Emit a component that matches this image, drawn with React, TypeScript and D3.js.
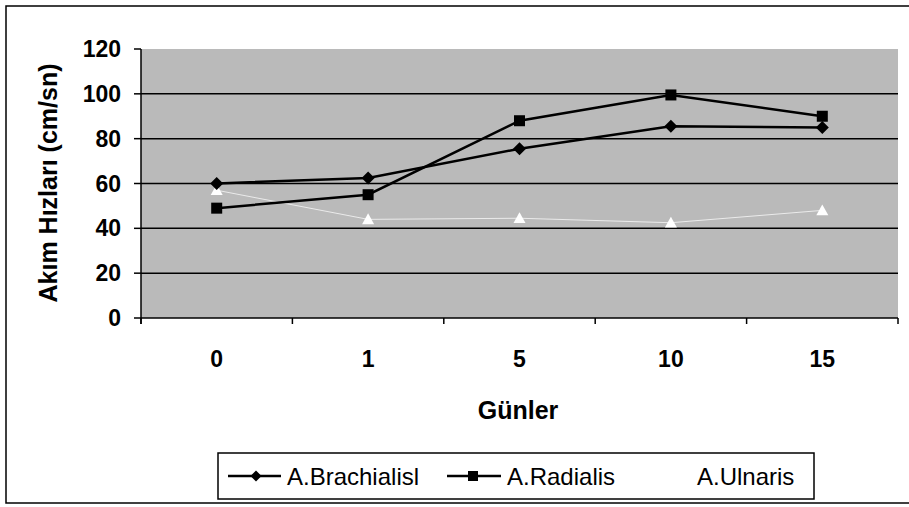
import React from "react";
import * as d3 from "d3";

const categories = ["0", "1", "5", "10", "15"];
const brachialis = [60, 62.5, 75.5, 85.5, 85];
const radialis = [49, 55, 88, 99.5, 90];
const ulnaris = [57, 44, 44.5, 42.5, 48];
const yTicks = [0, 20, 40, 60, 80, 100, 120];
const seriesNames = ["A.Brachialisl", "A.Radialis", "A.Ulnaris"];

const W = 909;
const H = 507;
const plot = { left: 141, right: 898, top: 49, bottom: 318 };
const FONT = "'Liberation Sans', Arial, sans-serif";

export default function App() {
  const x = d3.scaleBand<string>().domain(categories).range([plot.left, plot.right]);
  const y = d3.scaleLinear().domain([0, 120]).range([plot.bottom, plot.top]);
  const cx = (c: string) => (x(c) as number) + x.bandwidth() / 2;
  const line = d3
    .line<number>()
    .x((_, i) => cx(categories[i]))
    .y((d) => y(d));

  const diamond = (px: number, py: number, r = 6.5) =>
    `M${px},${py - r}L${px + r},${py}L${px},${py + r}L${px - r},${py}Z`;
  const tri = (px: number, py: number, r = 6) =>
    `M${px},${py - r}L${px + r},${py + r * 0.8}L${px - r},${py + r * 0.8}Z`;

  const boundaries = [...categories.map((c) => x(c) as number), plot.right];

  return (
    <svg
      width={W}
      height={H}
      style={{ position: "absolute", left: 0, top: 0, background: "#fff" }}
      fontFamily={FONT}
    >
      {/* outer border */}
      <rect x={6} y={6} width={930} height={497} fill="none" stroke="#000" strokeWidth={1.5} />

      {/* plot area */}
      <rect
        x={plot.left}
        y={plot.top}
        width={plot.right - plot.left}
        height={plot.bottom - plot.top}
        fill="#bababa"
      />

      {/* gridlines */}
      {yTicks
        .filter((t) => t > 0 && t < 120)
        .map((t) => (
          <line key={t} x1={plot.left} x2={plot.right} y1={y(t)} y2={y(t)} stroke="#000" strokeWidth={1.5} />
        ))}

      {/* axes */}
      <line x1={plot.left} x2={plot.left} y1={plot.top} y2={plot.bottom + 6} stroke="#000" strokeWidth={1.5} />
      <line x1={plot.left} x2={plot.right} y1={plot.bottom} y2={plot.bottom} stroke="#000" strokeWidth={1.5} />
      {yTicks.map((t) => (
        <g key={t}>
          <line x1={plot.left - 7} x2={plot.left} y1={y(t)} y2={y(t)} stroke="#000" strokeWidth={1.5} />
          <text
            x={121}
            y={y(t)}
            textAnchor="end"
            dominantBaseline="central"
            fontSize={23}
            fontWeight="bold"
          >
            {t}
          </text>
        </g>
      ))}
      {boundaries.map((b, i) => (
        <line key={i} x1={b} x2={b} y1={plot.bottom} y2={plot.bottom + 6} stroke="#000" strokeWidth={1.5} />
      ))}
      {categories.map((c) => (
        <text
          key={c}
          x={cx(c)}
          y={359}
          textAnchor="middle"
          dominantBaseline="central"
          fontSize={23}
          fontWeight="bold"
        >
          {c}
        </text>
      ))}

      {/* axis titles */}
      <text x={518} y={410} textAnchor="middle" dominantBaseline="central" fontSize={25} fontWeight="bold">
        Günler
      </text>
      <text
        transform={`translate(48,183) rotate(-90)`}
        textAnchor="middle"
        dominantBaseline="central"
        fontSize={25}
        fontWeight="bold"
      >
        Akım Hızları (cm/sn)
      </text>

      {/* series */}
      <path d={line(ulnaris) || ""} fill="none" stroke="#fff" strokeOpacity={0.7} strokeWidth={1} />
      <path d={line(radialis) || ""} fill="none" stroke="#000" strokeWidth={2.5} />
      <path d={line(brachialis) || ""} fill="none" stroke="#000" strokeWidth={2.5} />
      {ulnaris.map((v, i) => (
        <path key={"u" + i} d={tri(cx(categories[i]), y(v))} fill="#fff" />
      ))}
      {radialis.map((v, i) => (
        <rect key={"r" + i} x={cx(categories[i]) - 5.5} y={y(v) - 5.5} width={11} height={11} fill="#000" />
      ))}
      {brachialis.map((v, i) => (
        <path key={"b" + i} d={diamond(cx(categories[i]), y(v))} fill="#000" />
      ))}

      {/* legend */}
      <rect x={218} y={453} width={596} height={46} fill="#fff" stroke="#000" strokeWidth={1.5} />
      <line x1={228} x2={281} y1={476} y2={476} stroke="#000" strokeWidth={2.5} />
      <path d={diamond(256, 476, 5.5)} fill="#000" />
      <text x={287} y={476} dominantBaseline="central" fontSize={24}>
        {seriesNames[0]}
      </text>
      <line x1={447} x2={501} y1={476} y2={476} stroke="#000" strokeWidth={2.5} />
      <rect x={468} y={471} width={10} height={10} fill="#000" />
      <text x={507} y={476} dominantBaseline="central" fontSize={24}>
        {seriesNames[1]}
      </text>
      <line x1={640} x2={690} y1={476} y2={476} stroke="#fff" strokeWidth={1} />
      <path d={tri(665, 476, 5)} fill="#fff" />
      <text x={697} y={476} dominantBaseline="central" fontSize={24}>
        {seriesNames[2]}
      </text>
    </svg>
  );
}
